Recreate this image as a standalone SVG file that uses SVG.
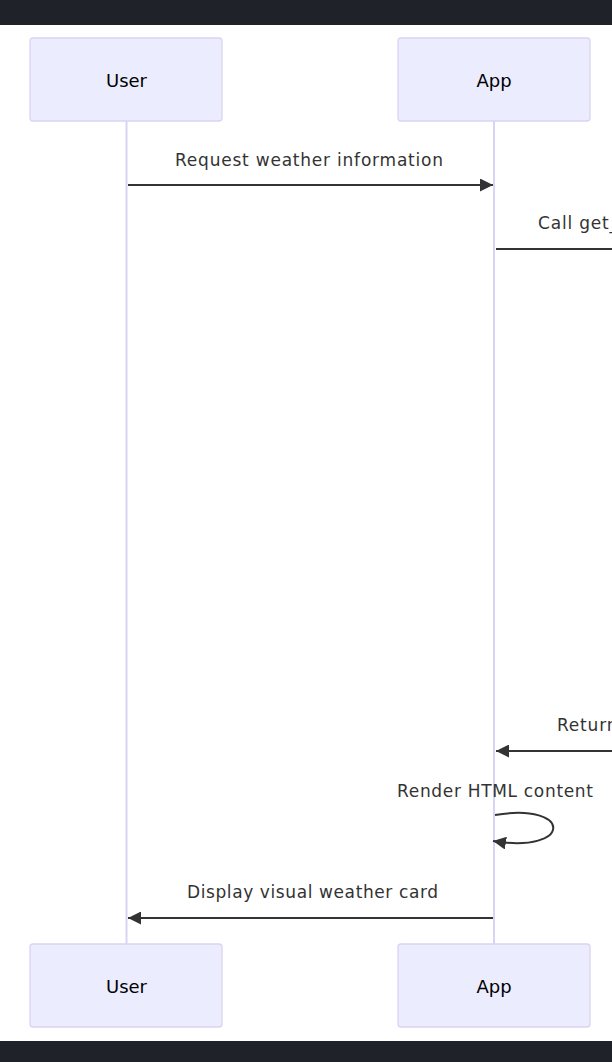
<svg xmlns="http://www.w3.org/2000/svg" width="612" height="1062" viewBox="0 0 612 1062">
<style>
.actor rect{fill:#ECECFF;stroke:#d9d3f4;stroke-width:1.3}
.actor text{font-family:"DejaVu Sans",sans-serif;font-size:18px;fill:#000;text-anchor:middle}
.life{stroke:#d9d3f4;stroke-width:2}
.msg{stroke:#333;stroke-width:2;fill:none}
.lbl{font-family:"DejaVu Sans",sans-serif;font-size:17px;fill:#333}
</style>
<defs>
<marker id="ah" markerUnits="userSpaceOnUse" viewBox="0 0 10 10" markerWidth="13" markerHeight="13" refX="10" refY="5" orient="auto">
<path d="M0,0 L10,5 L0,10 z" fill="#333"/>
</marker>
</defs>
<rect x="0" y="0" width="612" height="1062" fill="#fff"/>
<rect x="0" y="0" width="612" height="25" fill="#1f2229"/>
<rect x="0" y="1041" width="612" height="21" fill="#1f2229"/>
<g id="lifelines">
<line class="life" x1="126.5" y1="121" x2="126.5" y2="944"/>
<line class="life" x1="494" y1="121" x2="494" y2="944"/>
</g>
<g id="user-top" class="actor"><rect x="30" y="38" width="192" height="83" rx="3"/><text x="126.5" y="87">User</text></g>
<g id="app-top" class="actor"><rect x="398" y="38" width="192" height="83" rx="3"/><text x="494" y="87">App</text></g>
<g id="user-bottom" class="actor"><rect x="30" y="944" width="192" height="83" rx="3"/><text x="126.5" y="993">User</text></g>
<g id="app-bottom" class="actor"><rect x="398" y="944" width="192" height="83" rx="3"/><text x="494" y="993">App</text></g>
<g id="connectors">
<line class="msg" x1="128" y1="185" x2="493" y2="185" marker-end="url(#ah)"/>
<line class="msg" x1="496" y1="249" x2="640" y2="249"/>
<line class="msg" x1="640" y1="751" x2="496" y2="751" marker-end="url(#ah)"/>
<path class="msg" d="M495,815 C573,802 573,854 493,841" marker-end="url(#ah)"/>
<line class="msg" x1="493" y1="918" x2="128" y2="918" marker-end="url(#ah)"/>
</g>
<g id="labels">
<text class="lbl" x="175" y="166" textLength="268" lengthAdjust="spacing">Request weather information</text>
<text class="lbl" x="538" y="229" letter-spacing="0.8">Call get_</text>
<text class="lbl" x="557" y="731" letter-spacing="0.8">Return</text>
<text class="lbl" x="397" y="797" textLength="196" lengthAdjust="spacing">Render HTML content</text>
<text class="lbl" x="187" y="898" textLength="251" lengthAdjust="spacing">Display visual weather card</text>
</g>
</svg>
